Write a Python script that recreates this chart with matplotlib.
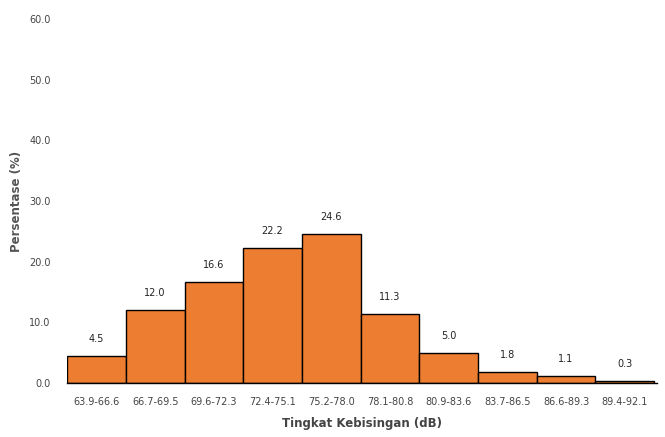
import matplotlib
matplotlib.use("Agg")
import matplotlib.pyplot as plt
import numpy as np

categories = ["63.9-66.6", "66.7-69.5", "69.6-72.3", "72.4-75.1", "75.2-78.0",
              "78.1-80.8", "80.9-83.6", "83.7-86.5", "86.6-89.3", "89.4-92.1"]
values = [4.5, 12.0, 16.6, 22.2, 24.6, 11.3, 5.0, 1.8, 1.1, 0.3]
yticks = [0, 10, 20, 30, 40, 50, 60]

plt.rcParams['font.family'] = ['DejaVu Sans']
fig = plt.figure(figsize=(6.65, 4.37), dpi=100)
ax = fig.add_axes([0.101, 0.1236, 0.887, 0.833])

x = np.arange(len(categories))
ax.bar(x, values, width=1.0, color="#ED7D31", edgecolor="black", linewidth=1.0)
for xi, v in zip(x, values):
    ax.text(xi, v + 2.0, f"{v:.1f}", ha="center", va="bottom", fontsize=7, color="#222222")

ax.set_xlim(-0.5, len(categories) - 0.45)
ax.set_ylim(0, 60)
ax.set_yticks(yticks)
ax.set_yticklabels([f"{t:.1f}" for t in yticks], fontsize=7, color="#444444")
ax.set_xticks(x)
ax.set_xticklabels(categories, fontsize=7, color="#444444")
ax.tick_params(axis="x", length=0, pad=10)
ax.tick_params(axis="y", length=0, pad=12)
for s in ["top", "right", "left"]:
    ax.spines[s].set_visible(False)
ax.spines["bottom"].set_color("black")
ax.spines["bottom"].set_linewidth(1.0)
ax.set_xlabel("Tingkat Kebisingan (dB)", fontsize=8.5, color="#444444", fontweight="bold", labelpad=7)
ax.set_ylabel("Persentase (%)", fontsize=8.5, color="#555555", fontweight="bold", labelpad=4)

fig.savefig("out.png", dpi=100)
